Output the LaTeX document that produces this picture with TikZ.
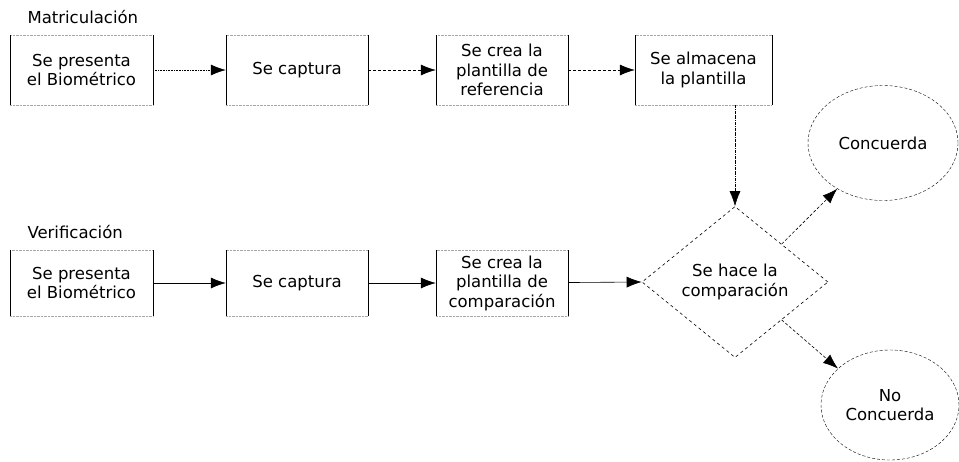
\documentclass[tikz,border=0pt]{standalone}
\usepackage{fontspec}
\setmainfont{DejaVu Sans}
\usetikzlibrary{shapes.geometric,arrows.meta}
\begin{document}
\begin{tikzpicture}[x=1pt,y=-1pt,
  font=\fontsize{16.5}{19.5}\selectfont,
  box/.style={minimum width=143pt,minimum height=70pt,align=center,inner sep=2pt,
    draw=gray!70,densely dotted,
    append after command={
      (\tikzlastnode.north west) edge[draw=black,solid,semithick,-] (\tikzlastnode.south west)
      (\tikzlastnode.north east) edge[draw=black,solid,semithick,-] (\tikzlastnode.south east)}},
  arr/.style={-{Latex[length=15pt,width=11pt]},semithick},
  round/.style={ellipse,draw,densely dashed,align=center,inner sep=0pt}]
\useasboundingbox (0,0) rectangle (959,461);
\node[anchor=west] (lm) at (24,17) {Matriculación};
\node[anchor=west] (lv) at (24,232) {Verificación};
\node[box] (m1) at (81.5,70) {Se presenta\\el Biométrico};
\node[box,minimum width=142pt] (m2) at (297,70) {Se captura};
\node[box,minimum width=132pt] (m3) at (502,70) {Se crea la\\plantilla de\\referencia};
\node[box,minimum width=137pt] (m4) at (703.5,70) {Se almacena\\la plantilla};
\node[box,minimum height=66pt] (v1) at (81.5,283) {Se presenta\\el Biométrico};
\node[box,minimum width=142pt,minimum height=66pt] (v2) at (297,283) {Se captura};
\node[box,minimum width=132pt,minimum height=66pt] (v3) at (502,283) {Se crea la\\plantilla de\\comparación};
\node[diamond,draw,dashed,semithick,minimum width=186pt,minimum height=151pt,inner sep=0pt,aspect=1.23,align=center] (d) at (735,282) {Se hace la\\comparación};
\node[round,minimum width=150pt,minimum height=115pt] (c1) at (883,143) {Concuerda};
\node[round,minimum width=138pt,minimum height=110pt] (c2) at (890,405) {No\\Concuerda};
\draw[arr,densely dotted] (m1) -- (m2);
\draw[arr,densely dashed] (m2) -- (m3);
\draw[arr,densely dashed] (m3) -- (m4);
\draw[arr,densely dash dot] (m4.south -| d.north) -- (d.north);
\draw[arr] (v1) -- (v2);
\draw[arr] (v2) -- (v3);
\draw[arr] (v3) -- (d.west);
\draw[arr,densely dashed] (d.north east) -- (c1.225);
\draw[arr,densely dashed] (d.south east) -- (c2.145);
\end{tikzpicture}
\end{document}
